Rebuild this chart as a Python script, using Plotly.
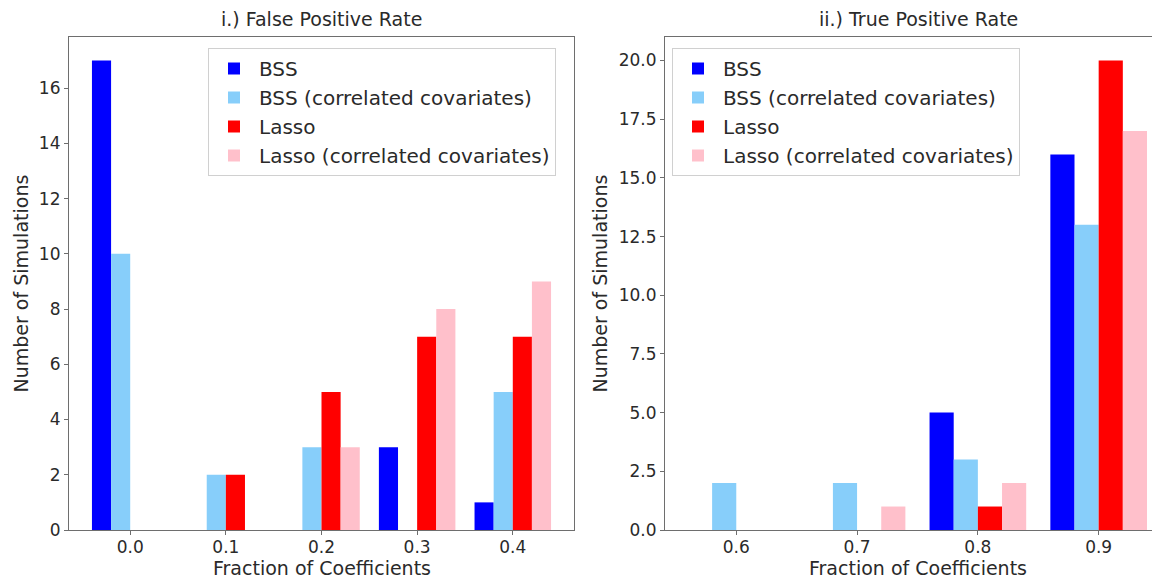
import plotly.graph_objects as go

# ---- data ----
fpr_x = [0.0, 0.1, 0.2, 0.3, 0.4]
fpr_bss = [17, 0, 0, 3, 1]
fpr_bss_corr = [10, 2, 3, 0, 5]
fpr_lasso = [0, 2, 5, 7, 7]
fpr_lasso_corr = [0, 0, 3, 8, 9]

tpr_x = [0.6, 0.7, 0.8, 0.9]
tpr_bss = [0, 0, 5, 16]
tpr_bss_corr = [2, 2, 3, 13]
tpr_lasso = [0, 0, 1, 20]
tpr_lasso_corr = [0, 1, 2, 17]

series_names = ["BSS", "BSS (correlated covariates)", "Lasso", "Lasso (correlated covariates)"]
colors = ["#0000ff", "#87cefa", "#ff0000", "#ffc0cb"]

fpr_ticks = [0.0, 0.1, 0.2, 0.3, 0.4]
fpr_ticktext = ["0.0", "0.1", "0.2", "0.3", "0.4"]
tpr_ticks = [0.6, 0.7, 0.8, 0.9]
tpr_ticktext = ["0.6", "0.7", "0.8", "0.9"]
fpr_yticks = [0, 2, 4, 6, 8, 10, 12, 14, 16]
tpr_yticks = [0.0, 2.5, 5.0, 7.5, 10.0, 12.5, 15.0, 17.5, 20.0]

titles = ["i.) False Positive Rate", "ii.) True Positive Rate"]
xlabel = "Fraction of Coefficients"
ylabel = "Number of Simulations"

FONT = "DejaVu Sans"
TXT = "#2a2a2a"
W, H = 1160, 578
OFF = 8  # page body margin offset


def px(x):
    return (x - OFF) / W


def py(y):
    return 1 - (y - OFF) / H


fig = go.Figure()
left_series = [fpr_bss, fpr_bss_corr, fpr_lasso, fpr_lasso_corr]
right_series = [tpr_bss, tpr_bss_corr, tpr_lasso, tpr_lasso_corr]
for name, col, vals in zip(series_names, colors, left_series):
    fig.add_trace(go.Bar(x=fpr_x, y=vals, name=name, marker=dict(color=col, line=dict(width=0)),
                         xaxis="x", yaxis="y", legend="legend", offsetgroup=name))
for name, col, vals in zip(series_names, colors, right_series):
    fig.add_trace(go.Bar(x=tpr_x, y=vals, name=name, marker=dict(color=col, line=dict(width=0)),
                         xaxis="x2", yaxis="y2", legend="legend2", offsetgroup=name))

axis_color = "#6e6e6e"
tickfont = dict(family=FONT, size=17, color=TXT)
labfont = dict(family=FONT, size=19, color=TXT)

ydom = [py(530), py(37)]

common_ax = dict(showline=True, linecolor=axis_color, linewidth=1.2, ticks="outside",
                 ticklen=4, tickcolor=axis_color, showgrid=False, zeroline=False,
                 tickfont=tickfont, automargin=False)

leg = dict(xanchor="left", yanchor="top", bgcolor="white", bordercolor="#d0d0d0", borderwidth=1,
           font=dict(family=FONT, size=20, color=TXT), tracegroupgap=0, itemwidth=40)

r_right_px = OFF + W  # right edge of the right plot area (just beyond the visible page)
fig.update_layout(
    width=W, height=H,
    margin=dict(l=0, r=0, t=0, b=0),
    paper_bgcolor="white", plot_bgcolor="white",
    barmode="group", bargap=0.2, bargroupgap=0,
    xaxis=dict(domain=[px(69), px(574)], range=[-0.064, 0.464], tickvals=fpr_ticks,
               ticktext=fpr_ticktext, mirror=True, anchor="y", ticklabelstandoff=-3,
               **common_ax),
    yaxis=dict(domain=ydom, range=[0, 17.85], tickvals=fpr_yticks, mirror=True, anchor="x",
               **common_ax),
    xaxis2=dict(domain=[px(665), 1.0], range=[0.541, 0.541 + (r_right_px - 665) / 1208],
                tickvals=tpr_ticks, ticktext=tpr_ticktext, mirror=True, anchor="y2",
                ticklabelstandoff=-3, **common_ax),
    yaxis2=dict(domain=ydom, range=[0, 21], tickvals=tpr_yticks, tickformat=".1f", mirror=False,
                anchor="x2", **common_ax),
    legend=dict(x=px(208), y=py(48), **leg),
    legend2=dict(x=px(672), y=py(48), **leg),
)

ymid = py((37 + 530) / 2)
ann = [
    dict(text=titles[0], x=px((69 + 574) / 2), y=py(19), yanchor="middle"),
    dict(text=titles[1], x=px((665 + 1172) / 2), y=py(19), yanchor="middle"),
    dict(text=xlabel, x=px((69 + 574) / 2), y=py(568), yanchor="middle"),
    dict(text=xlabel, x=px((665 + 1172) / 2), y=py(568), yanchor="middle"),
    dict(text=ylabel, x=px(20), y=ymid, yanchor="middle", textangle=-90),
    dict(text=ylabel, x=px(599), y=ymid, yanchor="middle", textangle=-90),
]
for a in ann:
    a.update(xref="paper", yref="paper", xanchor="center", showarrow=False, font=labfont)
fig.update_layout(annotations=ann)

fig.write_html("out.html")
